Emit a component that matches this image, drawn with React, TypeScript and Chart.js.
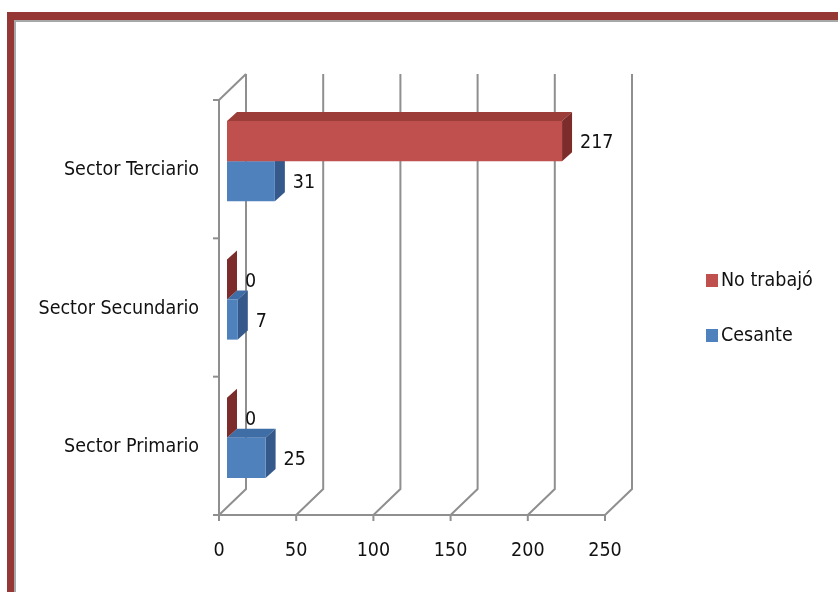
import React, { useEffect, useRef } from "react";
import { Chart, registerables } from "chart.js";

Chart.register(...registerables);

const categories = ["Sector Terciario", "Sector Secundario", "Sector Primario"];
const seriesNames = ["No trabajó", "Cesante"];
const noTrabajo = [217, 0, 0];
const cesante = [31, 7, 25];
const xTickValues = [0, 50, 100, 150, 200, 250];

const FONT = "'DejaVu Sans', sans-serif";
const FSIZE = 19.5;
const FSTRETCH = "condensed";
const FRONT = { x: -8, y: 8 };
const BACK = { x: 19, y: -18 };
const DEPTH = { x: 10, y: 9 };
const faceColors = [
  { top: "#9C3D3A", side: "#7C2C2A" },
  { top: "#3F6DA6", side: "#34598A" },
];

const threeDPlugin = {
  id: "threeD",
  beforeDatasetsDraw(chart: any) {
    const ctx = chart.ctx;
    const xs = chart.scales.x;
    const { top, bottom } = chart.chartArea;
    ctx.save();
    ctx.strokeStyle = "#8f8f8f";
    ctx.lineWidth = 2;
    ctx.lineCap = "butt";
    for (const v of xTickValues) {
      const px = xs.getPixelForValue(v);
      ctx.beginPath();
      ctx.moveTo(px + BACK.x, top + BACK.y);
      ctx.lineTo(px + BACK.x, bottom + BACK.y);
      ctx.lineTo(px + FRONT.x, bottom + FRONT.y);
      ctx.stroke();
      ctx.beginPath();
      ctx.moveTo(px + FRONT.x, bottom + FRONT.y);
      ctx.lineTo(px + FRONT.x, bottom + FRONT.y + 6);
      ctx.stroke();
    }
    const x0 = xs.getPixelForValue(0);
    const xMax = xs.getPixelForValue(xTickValues[xTickValues.length - 1]);
    ctx.beginPath();
    ctx.moveTo(x0 + FRONT.x - 6, bottom + FRONT.y);
    ctx.lineTo(xMax + FRONT.x, bottom + FRONT.y);
    ctx.stroke();
    const lx = x0 + FRONT.x;
    ctx.beginPath();
    ctx.moveTo(lx, top + FRONT.y);
    ctx.lineTo(lx, bottom + FRONT.y);
    ctx.stroke();
    ctx.beginPath();
    ctx.moveTo(lx, top + FRONT.y);
    ctx.lineTo(x0 + BACK.x, top + BACK.y);
    ctx.stroke();
    const n = categories.length;
    for (let i = 0; i <= n; i++) {
      const y = top + (i * (bottom - top)) / n + FRONT.y;
      ctx.beginPath();
      ctx.moveTo(lx - 6, y);
      ctx.lineTo(lx, y);
      ctx.stroke();
    }
    // 3D faces of bars
    for (let d = chart.data.datasets.length - 1; d >= 0; d--) {
      const meta = chart.getDatasetMeta(d);
      const fc = faceColors[d];
      meta.data.forEach((el: any) => {
        const { x, y, base, height } = el.getProps(["x", "y", "base", "height"], true);
        const y0 = y - height / 2;
        const y1 = y + height / 2;
        const xa = Math.min(base, x);
        const xb = Math.max(base, x);
        ctx.fillStyle = fc.top;
        ctx.beginPath();
        ctx.moveTo(xa, y0);
        ctx.lineTo(xb, y0);
        ctx.lineTo(xb + DEPTH.x, y0 - DEPTH.y);
        ctx.lineTo(xa + DEPTH.x, y0 - DEPTH.y);
        ctx.closePath();
        ctx.fill();
        ctx.fillStyle = fc.side;
        ctx.beginPath();
        ctx.moveTo(xb, y0);
        ctx.lineTo(xb + DEPTH.x, y0 - DEPTH.y);
        ctx.lineTo(xb + DEPTH.x, y1 - DEPTH.y);
        ctx.lineTo(xb, y1);
        ctx.closePath();
        ctx.fill();
      });
    }
    ctx.restore();
  },
  afterDatasetsDraw(chart: any) {
    const ctx = chart.ctx;
    ctx.save();
    ctx.font = `${FSTRETCH} ${FSIZE}px ${FONT}`;
    ctx.fillStyle = "#111";
    ctx.textAlign = "left";
    ctx.textBaseline = "middle";
    chart.data.datasets.forEach((ds: any, d: number) => {
      const meta = chart.getDatasetMeta(d);
      meta.data.forEach((el: any, i: number) => {
        const { x, y } = el.getProps(["x", "y"], true);
        ctx.fillText(String(ds.data[i]), x + DEPTH.x + 8, y + 2);
      });
    });
    // legend
    const legendY = [280, 335];
    chart.data.datasets.forEach((ds: any, d: number) => {
      ctx.fillStyle = ds.backgroundColor;
      ctx.fillRect(706, legendY[d] - 6, 12, 13);
      ctx.fillStyle = "#111";
      ctx.fillText(ds.label, 721, legendY[d] + 1);
    });
    ctx.restore();
  },
};

export default function App() {
  const ref = useRef<HTMLCanvasElement | null>(null);
  useEffect(() => {
    if (!ref.current) return;
    const chart = new Chart(ref.current, {
      type: "bar",
      data: {
        labels: categories,
        datasets: [
          { label: seriesNames[0], data: noTrabajo, backgroundColor: "#C0504D", borderWidth: 0 },
          { label: seriesNames[1], data: cesante, backgroundColor: "#4F81BD", borderWidth: 0 },
        ],
      },
      options: {
        indexAxis: "y",
        animation: false,
        responsive: false,
        devicePixelRatio: 1,
        layout: { padding: { left: 0, top: 92, right: 225, bottom: 35 } },
        datasets: { bar: { categoryPercentage: 0.58, barPercentage: 1 } },
        plugins: { legend: { display: false }, tooltip: { enabled: false } },
        scales: {
          x: {
            min: 0,
            max: 250,
            ticks: {
              stepSize: 50,
              padding: 32,
              labelOffset: FRONT.x,
              color: "#111",
              font: { family: FONT, size: FSIZE, weight: FSTRETCH },
            },
            grid: { display: false, drawTicks: false },
            border: { display: false },
            afterFit: (s: any) => {
              s.height = 50;
            },
          },
          y: {
            ticks: {
              padding: 28,
              labelOffset: FRONT.y + 1,
              color: "#111",
              font: { family: FONT, size: FSIZE, weight: FSTRETCH },
            },
            grid: { display: false, drawTicks: false },
            border: { display: false },
            afterFit: (s: any) => {
              s.width = 227;
            },
          },
        },
      },
      plugins: [threeDPlugin],
    } as any);
    return () => chart.destroy();
  }, []);

  return (
    <div style={{ position: "fixed", left: 0, top: 0, width: 838, height: 592, overflow: "hidden", background: "#fff" }}>
      <div style={{ position: "absolute", left: 7, top: 12, width: 900, height: 700, borderLeft: "7px solid #953735", borderTop: "8px solid #953735" }} />
      <div style={{ position: "absolute", left: 14, top: 20, width: 900, height: 700, borderLeft: "2px solid #a8a8a8", borderTop: "2px solid #a8a8a8" }} />
      <canvas ref={ref} width={838} height={592} style={{ position: "absolute", left: 0, top: 0 }} />
    </div>
  );
}
